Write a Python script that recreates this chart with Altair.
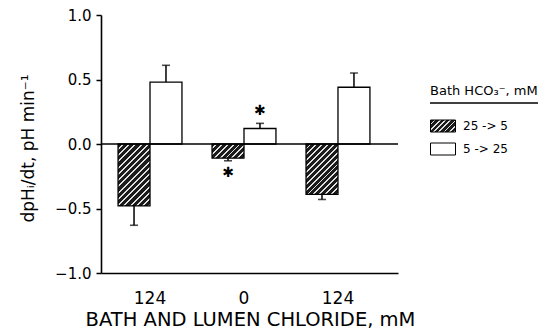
import json
import math
import altair as alt
import pandas as pd

# ---------------- data ----------------
group_labels = ["124", "0", "124"]
series = ["25 -> 5", "5 -> 25"]
hatched_vals = [-0.48, -0.11, -0.39]
hatched_se = [0.15, 0.02, 0.04]
white_vals = [0.48, 0.12, 0.44]
white_se = [0.13, 0.04, 0.11]
hatched_star = [False, True, False]
white_star = [False, True, False]

# ---------------- layout constants ----------------
W, H = 297, 258
PX_PER_UNIT = H / 2.0
BAR_W = 32.0
FONT = "DejaVu Sans, Noto Sans, sans-serif"


def hatch(w, h, period=4.3, dark="#1c1c1c", light="#e0e0e0", frac=0.68):
    k = (w + h) / (w * w + h * h)
    n = max(1, round((w + h) / (math.sqrt(2) * period)))
    stops = []
    for i in range(n):
        a, b, c = i / n, (i + frac) / n, (i + 1) / n
        stops += [
            {"offset": a, "color": dark},
            {"offset": b, "color": dark},
            {"offset": b, "color": light},
            {"offset": c, "color": light},
        ]
    return {"gradient": "linear", "x1": 0, "y1": 0, "x2": w * k, "y2": h * k, "stops": stops}


rows = []
keys, fills = [], []
for i in range(len(group_labels)):
    rows.append(dict(g=i, series=series[0], value=hatched_vals[i], se=hatched_se[i],
                     star=hatched_star[i], key=f"h{i}"))
    keys.append(f"h{i}")
    fills.append({"expr": json.dumps(hatch(BAR_W, abs(hatched_vals[i]) * PX_PER_UNIT))})
for i in range(len(group_labels)):
    rows.append(dict(g=i, series=series[1], value=white_vals[i], se=white_se[i],
                     star=white_star[i], key=f"w{i}"))
    keys.append(f"w{i}")
    fills.append("white")

df = pd.DataFrame(rows)

x_enc = alt.X(
    "g:O",
    scale=alt.Scale(paddingInner=0.32, paddingOuter=0.24, align=0.378),
    axis=alt.Axis(
        title="BATH AND LUMEN CHLORIDE, mM",
        labelExpr=f"{json.dumps(group_labels)}[datum.value]",
        labelAngle=0,
        ticks=False,
        grid=False,
        labelFontSize=17,
        labelPadding=17,
        labelFont=FONT,
        labelColor="black",
        domainColor="black",
        domainWidth=1.6,
        titleFont=FONT,
        titleFontSize=19.5,
        titleFontWeight="normal",
        titleColor="black",
        titleX=149,
        titleY=52,
        titleAlign="center",
        titleBaseline="alphabetic",
    ),
)
xo_enc = alt.XOffset("series:N", scale=alt.Scale(domain=series, paddingInner=0, paddingOuter=0))
y_scale = alt.Scale(domain=[-1, 1], nice=False, zero=False)
y_axis = alt.Axis(
    title="dpHᵢ/dt, pH min⁻¹",
    values=[-1, -0.5, 0, 0.5, 1],
    format=".1f",
    grid=False,
    tickSize=5,
    tickWidth=1.5,
    tickColor="black",
    domainColor="black",
    domainWidth=1.6,
    labelFont=FONT,
    labelFontSize=15,
    labelPadding=5,
    labelColor="black",
    titleFont=FONT,
    titleFontSize=17,
    titleFontWeight="normal",
    titleColor="black",
    titleX=-73,
    titleY=133,
    titleAlign="center",
    titleBaseline="middle",
    titleAngle=270,
)

base = alt.Chart(df).transform_calculate(
    end="datum.value + (datum.value < 0 ? -datum.se : datum.se)"
)

bars = base.mark_bar(stroke="black", strokeWidth=1.3).encode(
    x=x_enc,
    xOffset=xo_enc,
    y=alt.Y("value:Q", scale=y_scale, axis=y_axis),
    fill=alt.Fill("key:N", scale=alt.Scale(domain=keys, range=fills), legend=None),
)

err = base.mark_rule(color="black", strokeWidth=1.5).encode(
    x=alt.X("g:O"), xOffset="series:N", y="value:Q", y2="end:Q"
)
cap = base.mark_tick(color="black", thickness=1.6, size=8, orient="horizontal").encode(
    x=alt.X("g:O"), xOffset="series:N", y="end:Q"
)

star_up = base.transform_filter("datum.star && datum.value > 0").mark_text(
    text="✱", font=FONT, fontSize=14, color="black", dy=-12
).encode(x=alt.X("g:O"), xOffset="series:N", y="end:Q")
star_dn = base.transform_filter("datum.star && datum.value < 0").mark_text(
    text="✱", font=FONT, fontSize=14, color="black", dy=12
).encode(x=alt.X("g:O"), xOffset="series:N", y="end:Q")

zero = alt.Chart(pd.DataFrame({"v": [0]})).mark_rule(color="black", strokeWidth=1.6).encode(
    y=alt.Y("v:Q")
)

legend_layer = base.transform_filter("false").mark_bar().encode(
    color=alt.Color(
        "series:N",
        scale=alt.Scale(domain=series, range=[{"expr": json.dumps(hatch(25, 12, period=4.0))}, "white"]),
        legend=alt.Legend(
            title="Bath HCO₃⁻, mM",
            orient="none",
            legendX=329,
            legendY=70,
            titleFont=FONT,
            titleFontSize=13,
            titleFontWeight="normal",
            titleColor="black",
            titlePadding=15,
            labelFont=FONT,
            labelFontSize=12,
            labelColor="black",
            labelOffset=7,
            symbolType="M-1,-0.48H1V0.48H-1Z",
            symbolSize=625,
            symbolStrokeColor="black",
            symbolStrokeWidth=1,
            symbolOpacity=1,
            rowPadding=2,
        ),
    )
)

underline = alt.Chart(pd.DataFrame({"v": [0]})).mark_rule(color="black", strokeWidth=1.5).encode(
    x=alt.value(329), x2=alt.value(444), y=alt.value(88)
)

chart = (
    alt.layer(bars, zero, err, cap, star_up, star_dn, legend_layer, underline)
    .properties(
        width=W,
        height=H,
        autosize=alt.AutoSizeParams(type="none"),
        padding={"left": 93, "top": 7, "right": 140, "bottom": 56},
    )
    .configure_view(stroke="#ffffff", strokeOpacity=0, strokeWidth=0, fill="white")
    .configure_axis(grid=False)
    .configure(
        background="white",
        style={"cell": {"stroke": "transparent", "strokeWidth": 0}},
    )
)

chart.save("out.html", embed_options={"renderer": "svg", "actions": False})
